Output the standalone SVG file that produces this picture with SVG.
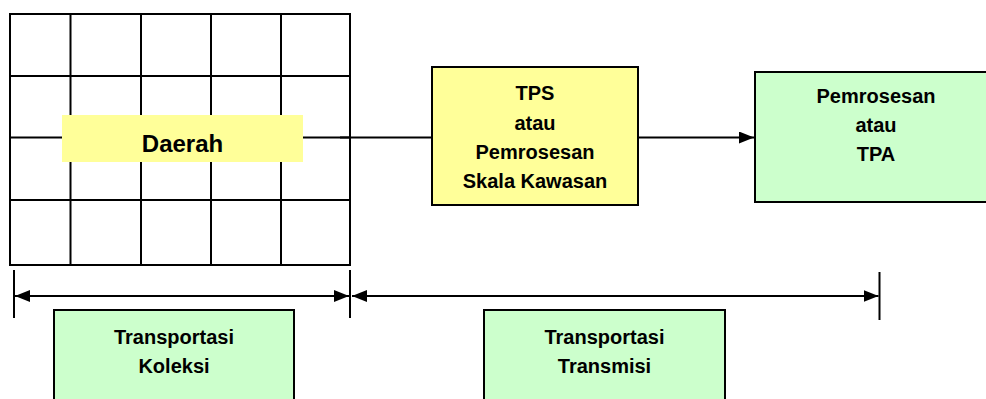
<svg xmlns="http://www.w3.org/2000/svg" width="986" height="399" viewBox="0 0 986 399">
<style>
.t{font-family:"Liberation Sans",Arial,sans-serif;font-weight:bold;font-size:20px;fill:#000;text-anchor:middle}
.ln{stroke:#000;stroke-width:2;fill:none}
.box{stroke:#000;stroke-width:2}
</style>
<defs>
<marker id="ah" viewBox="0 0 15 12" refX="15" refY="6" markerWidth="15" markerHeight="12" markerUnits="userSpaceOnUse" orient="auto-start-reverse">
<path d="M0,0 L15,6 L0,12 Z" fill="#000"/>
</marker>
</defs>
<g id="daerah-grid">
<rect x="10" y="14" width="340" height="251" class="ln" fill="#fff"/>
<path class="ln" d="M70.5,14V265M141,14V265M211,14V265M281,14V265M10,76H350M10,137.5H350M10,200H350"/>
<rect x="62" y="115" width="241" height="47" fill="#FFFF99"/>
<text class="t" x="182.5" y="152" style="font-size:24px">Daerah</text>
</g>
<g id="tps">
<rect class="box" x="432" y="67" width="206" height="138" fill="#FFFF99"/>
<text class="t" x="535" y="100">TPS</text>
<text class="t" x="535" y="130">atau</text>
<text class="t" x="535" y="159">Pemrosesan</text>
<text class="t" x="535" y="188">Skala Kawasan</text>
</g>
<g id="tpa">
<rect class="box" x="755" y="72" width="242" height="130" fill="#CCFFCC"/>
<text class="t" x="876" y="103">Pemrosesan</text>
<text class="t" x="876" y="132">atau</text>
<text class="t" x="876" y="161">TPA</text>
</g>
<g id="koleksi">
<rect class="box" x="54" y="310" width="240" height="100" fill="#CCFFCC"/>
<text class="t" x="174" y="344">Transportasi</text>
<text class="t" x="174" y="373">Koleksi</text>
</g>
<g id="transmisi">
<rect class="box" x="484" y="310" width="241" height="100" fill="#CCFFCC"/>
<text class="t" x="604.5" y="344">Transportasi</text>
<text class="t" x="604.5" y="373">Transmisi</text>
</g>
<g id="connectors">
<line class="ln" x1="340" y1="137.5" x2="432" y2="137.5"/>
<line class="ln" x1="638" y1="137.5" x2="754" y2="137.5" marker-end="url(#ah)"/>
<line class="ln" x1="14" y1="270" x2="14" y2="318"/>
<line class="ln" x1="350" y1="270" x2="350" y2="318"/>
<line class="ln" x1="879.5" y1="272" x2="879.5" y2="320"/>
<line class="ln" x1="15" y1="296" x2="349" y2="296" marker-start="url(#ah)" marker-end="url(#ah)"/>
<line class="ln" x1="352" y1="296" x2="878.5" y2="296" marker-start="url(#ah)" marker-end="url(#ah)"/>
</g>
</svg>
